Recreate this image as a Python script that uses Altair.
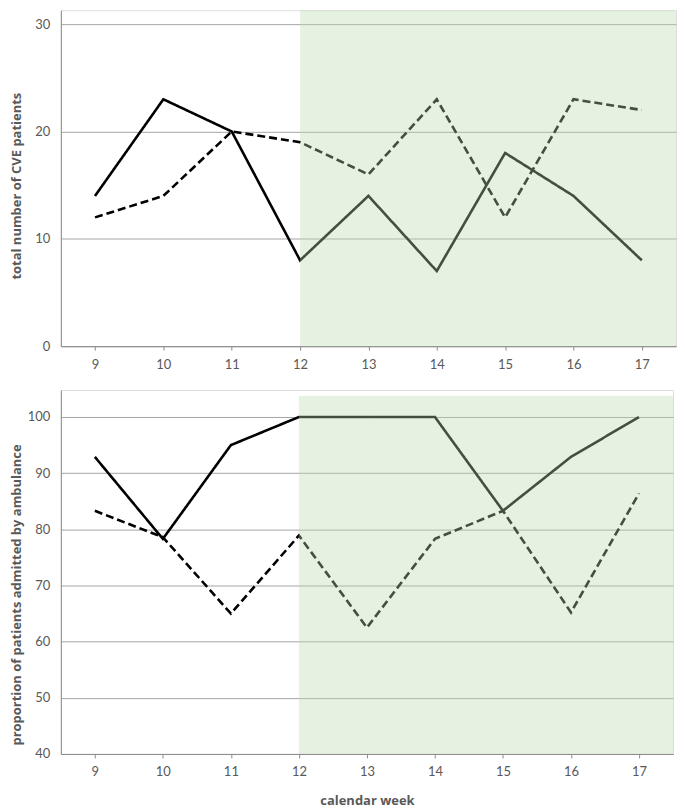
import altair as alt
import pandas as pd

# ---- data ----
weeks = [9, 10, 11, 12, 13, 14, 15, 16, 17]
cve_solid = [14, 23, 20, 8, 14, 7, 18, 14, 8]
cve_dashed = [12, 14, 20, 19, 16, 23, 12, 23, 22]
amb_solid = [92.9, 78.3, 95.0, 100, 100, 100, 83.3, 92.9, 100]
amb_dashed = [83.3, 78.6, 65.0, 78.9, 62.5, 78.3, 83.3, 65.2, 86.4]
series_names = ["solid", "dashed"]
top_ticks = [0, 10, 20, 30]
bottom_ticks = [40, 50, 60, 70, 80, 90, 100]
shade_from = [12]
shade_to = [17.5]

FONT = "Lato"
TFONT = "Open Sans"
GREY = "#595959"
AXIS = "#8c8c8c"
GRID = "#a6a6a6"


def panel(solid, dashed, ydom, yticks, ytitle, title_y, title_x, xtitle, w, h, shade_top):
    df = pd.DataFrame({
        "week": weeks + weeks,
        "value": solid + dashed,
        "series": [series_names[0]] * len(weeks) + [series_names[1]] * len(weeks),
    })
    xscale = alt.Scale(domain=[8.5, 17.5], nice=False, zero=False)
    yscale = alt.Scale(domain=ydom, nice=False, zero=False)
    xaxis = alt.Axis(values=weeks, grid=False, tickSize=4, labelPadding=8,
                     domainColor=AXIS, tickColor=AXIS, labelColor=GREY,
                     labelFont=FONT, labelFontSize=13, format="d",
                     title=xtitle if xtitle else None,
                     titleFont=TFONT, titleFontSize=13, titleFontWeight="bold",
                     titleColor=GREY, titlePadding=16)
    yaxis = alt.Axis(values=yticks, grid=True, gridColor=GRID, gridWidth=1,
                     ticks=False, tickSize=0, labelPadding=11,
                     domainColor=AXIS, labelColor=GREY, labelFont=FONT,
                     labelFontSize=13, format="d", title=ytitle,
                     titleFont=TFONT, titleFontSize=13, titleFontWeight="bold",
                     titleColor=GREY, titleY=title_y, titleX=title_x,
                     titleBaseline="middle", titleAngle=270)
    lines = alt.Chart(df).mark_line(strokeWidth=2.6, color="black").encode(
        x=alt.X("week:Q", scale=xscale, axis=xaxis),
        y=alt.Y("value:Q", scale=yscale, axis=yaxis),
        strokeDash=alt.StrokeDash("series:N",
                                  scale=alt.Scale(domain=series_names, range=[[1, 0], [8, 4]]),
                                  legend=None),
        detail="series:N",
    )
    sdf = pd.DataFrame({"x": shade_from, "x2": shade_to, "y": [ydom[0]], "y2": [shade_top]})
    shade = alt.Chart(sdf).mark_rect(color="#badbad", opacity=0.365).encode(
        x=alt.X("x:Q", scale=xscale),
        x2="x2:Q",
        y=alt.Y("y:Q", scale=yscale),
        y2="y2:Q",
    )
    return alt.layer(lines, shade).properties(width=w, height=h)


top = panel(cve_solid, cve_dashed, [0, 31.3], top_ticks,
            "total number of CVE patients", 176, -44, None, 617, 337, 31.3)
bottom = panel(amb_solid, amb_dashed, [40, 104.8], bottom_ticks,
               "proportion of patients admitted by ambulance", 205, -44,
               "calendar week", 614, 365, 103.8)

chart = alt.vconcat(top, bottom, spacing=17).properties(
    padding={"left": 2, "top": 0, "right": 0, "bottom": 0}
).configure_view(stroke=None).configure(background="white")

chart.save("out.html", embed_options={"renderer": "svg", "actions": False})
